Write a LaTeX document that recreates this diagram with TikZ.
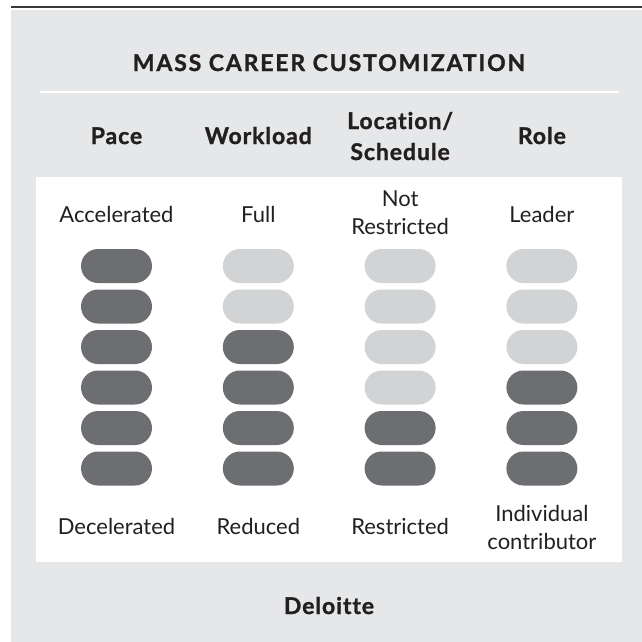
\documentclass[tikz,border=0pt]{standalone}
\usepackage{fontspec}
\setmainfont{Lato}[Ligatures=NoCommon]
\begin{document}
\definecolor{panelgray}{HTML}{E6E7E8}
\definecolor{pilldark}{HTML}{6D6E71}
\definecolor{pilllight}{HTML}{D1D3D4}
\definecolor{inkdark}{HTML}{231F20}
\definecolor{rulegray}{HTML}{3A3A3C}
\begin{tikzpicture}[x=1pt,y=-1pt,
  label/.style={text=inkdark,inner sep=0pt,anchor=base,align=center,font=\fontsize{22}{28}\selectfont},
  head/.style={label,font=\fontsize{23}{31}\selectfont\bfseries\addfontfeatures{LetterSpace=4,FakeBold=1.2}},
  pill/.style={rectangle,rounded corners=17pt,minimum width=71pt,minimum height=34pt,inner sep=0pt,draw=none},
  on/.style={pill,fill=pilldark},
  off/.style={pill,fill=pilllight}]
  % canvas
  \fill[white] (0,0) rectangle (642,642);
  \useasboundingbox (0,0) rectangle (642,642);
  % gray panel, top rule and white card
  \fill[panelgray] (11,10) rectangle (642,642);
  \draw[rulegray,line width=2pt] (11,7) -- (642,7);
  \node[head,font=\fontsize{23}{30}\selectfont\bfseries\addfontfeatures{LetterSpace=8,FakeBold=1.2}] (title) at (329,71) {MASS CAREER CUSTOMIZATION};
  \draw[white,line width=2pt] (40,92) -- (619,92);
  \fill[white] (36,177) rectangle (622,562);
  % column headings (multi-line nodes sit on their last baseline)
  \node[head] (hpace) at (116.5,144) {Pace};
  \node[head] (hwork) at (258.3,144) {Workload};
  \node[head] (hloc)  at (400.1,160) {Location/\\Schedule};
  \node[head] (hrole) at (541.9,144) {Role};
  % top scale labels
  \node[label] (tpace) at (116.5,222) {Accelerated};
  \node[label] (twork) at (258.3,222) {Full};
  \node[label] (tloc)  at (400.1,234) {Not\\Restricted};
  \node[label] (trole) at (541.9,222) {Leader};
  % bottom scale labels
  \node[label] (bpace) at (116.5,534) {Decelerated};
  \node[label] (bwork) at (258.3,534) {Reduced};
  \node[label] (bloc)  at (400.1,534) {Restricted};
  \node[label] (brole) at (541.9,549) {Individual\\contributor};
  % pill columns: number of light pills at the top of each column
  \foreach \c/\x/\n in {1/116.5/0, 2/258.3/2, 3/400.1/4, 4/541.9/3}{
    \foreach \r in {1,...,6}{
      \pgfmathtruncatemacro{\lit}{\r>\n ? 1 : 0}
      \ifnum\lit=1
        \node[on] (p\c-\r) at (\x,{266+40.5*(\r-1)}) {};
      \else
        \node[off] (p\c-\r) at (\x,{266+40.5*(\r-1)}) {};
      \fi
    }
  }
  % source
  \node[head] (src) at (329,614) {Deloitte};
\end{tikzpicture}
\end{document}
